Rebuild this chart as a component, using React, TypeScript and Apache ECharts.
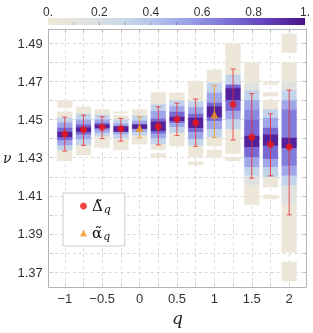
import React, { useEffect, useRef } from 'react';
import * as echarts from 'echarts';

// ---------- data ----------
const qValues = [-1, -0.75, -0.5, -0.25, 0, 0.25, 0.5, 0.75, 1, 1.25, 1.5, 1.75, 2];

// density levels (0..1) used in the columns
const B = 0.02, G = 0.15, L = 0.32, V = 0.52, P = 0.72, D = 0.95;

// [q, upper nu, lower nu, level]
const densityBlocks: [number, number, number, number][] = [
  [-1, 1.4600, 1.4561, B], [-1, 1.4541, 1.4510, B], [-1, 1.4510, 1.4485, L], [-1, 1.4485, 1.4457, V],
  [-1, 1.4457, 1.4436, P], [-1, 1.4436, 1.4405, D], [-1, 1.4405, 1.4390, P], [-1, 1.4390, 1.4363, V],
  [-1, 1.4363, 1.4337, L], [-1, 1.4337, 1.4283, B],

  [-0.75, 1.4567, 1.4530, B], [-0.75, 1.4530, 1.4500, L], [-0.75, 1.4500, 1.4475, V], [-0.75, 1.4475, 1.4460, P],
  [-0.75, 1.4460, 1.4435, D], [-0.75, 1.4435, 1.4420, P], [-0.75, 1.4420, 1.4395, V], [-0.75, 1.4395, 1.4365, L],
  [-0.75, 1.4365, 1.4313, B],

  [-0.5, 1.4553, 1.4525, B], [-0.5, 1.4525, 1.4500, L], [-0.5, 1.4500, 1.4482, V], [-0.5, 1.4482, 1.4474, P],
  [-0.5, 1.4474, 1.4455, D], [-0.5, 1.4455, 1.4447, P], [-0.5, 1.4447, 1.4430, V], [-0.5, 1.4430, 1.4410, L],
  [-0.5, 1.4410, 1.4353, B],

  [-0.25, 1.4541, 1.4532, B], [-0.25, 1.4521, 1.4500, B], [-0.25, 1.4500, 1.4480, L], [-0.25, 1.4480, 1.4465, V],
  [-0.25, 1.4465, 1.4435, D], [-0.25, 1.4435, 1.4420, V], [-0.25, 1.4420, 1.4400, L], [-0.25, 1.4400, 1.4341, B],

  [0, 1.4553, 1.4520, B], [0, 1.4520, 1.4495, L], [0, 1.4495, 1.4475, V], [0, 1.4475, 1.4450, D],
  [0, 1.4450, 1.4435, V], [0, 1.4435, 1.4415, L], [0, 1.4415, 1.4370, B],

  [0.25, 1.4643, 1.4580, B], [0.25, 1.4580, 1.4545, L], [0.25, 1.4545, 1.4505, V], [0.25, 1.4505, 1.4490, P],
  [0.25, 1.4490, 1.4440, D], [0.25, 1.4440, 1.4425, P], [0.25, 1.4425, 1.4400, V], [0.25, 1.4400, 1.4370, L],
  [0.25, 1.4370, 1.4341, B], [0.25, 1.4322, 1.4303, B],

  [0.5, 1.4640, 1.4600, B], [0.5, 1.4600, 1.4570, L], [0.5, 1.4570, 1.4540, V], [0.5, 1.4540, 1.4515, P],
  [0.5, 1.4515, 1.4490, D], [0.5, 1.4490, 1.4480, P], [0.5, 1.4480, 1.4460, V], [0.5, 1.4460, 1.4430, L],
  [0.5, 1.4430, 1.4361, B],

  [0.75, 1.4700, 1.4596, B], [0.75, 1.4596, 1.4565, L], [0.75, 1.4565, 1.4530, V], [0.75, 1.4530, 1.4510, P],
  [0.75, 1.4510, 1.4455, D], [0.75, 1.4455, 1.4433, P], [0.75, 1.4433, 1.4398, V], [0.75, 1.4398, 1.4363, L],
  [0.75, 1.4363, 1.4301, B], [0.75, 1.4280, 1.4263, B],

  [1, 1.4761, 1.4692, B], [1, 1.4692, 1.4641, L], [1, 1.4641, 1.4589, V], [1, 1.4589, 1.4570, P],
  [1, 1.4570, 1.4510, D], [1, 1.4510, 1.4492, P], [1, 1.4492, 1.4448, V], [1, 1.4448, 1.4405, L],
  [1, 1.4405, 1.4362, B], [1, 1.4341, 1.4301, B],

  [1.25, 1.4900, 1.4735, B], [1.25, 1.4735, 1.4683, L], [1.25, 1.4683, 1.4665, P], [1.25, 1.4665, 1.4600, D],
  [1.25, 1.4600, 1.4544, P], [1.25, 1.4544, 1.4500, V], [1.25, 1.4500, 1.4448, L], [1.25, 1.4448, 1.4322, B],
  [1.25, 1.4304, 1.4283, B],

  [1.5, 1.4801, 1.4690, B], [1.5, 1.4690, 1.4653, G], [1.5, 1.4653, 1.4601, L], [1.5, 1.4601, 1.4553, V],
  [1.5, 1.4553, 1.4500, 0.62], [1.5, 1.4500, 1.4414, P], [1.5, 1.4414, 1.4353, D], [1.5, 1.4353, 1.4301, P],
  [1.5, 1.4301, 1.4249, V], [1.5, 1.4249, 1.4205, L], [1.5, 1.4205, 1.4153, G], [1.5, 1.4153, 1.4053, B],

  [1.75, 1.4700, 1.4683, B], [1.75, 1.4643, 1.4622, B], [1.75, 1.4601, 1.4553, B], [1.75, 1.4553, 1.4509, L],
  [1.75, 1.4509, 1.4456, V], [1.75, 1.4456, 1.4422, P], [1.75, 1.4422, 1.4362, D], [1.75, 1.4362, 1.4292, P],
  [1.75, 1.4292, 1.4249, V], [1.75, 1.4249, 1.4197, L], [1.75, 1.4197, 1.4145, B], [1.75, 1.4105, 1.4084, B],

  [2, 1.4948, 1.4851, B], [2, 1.4801, 1.4700, B], [2, 1.4700, 1.4653, G], [2, 1.4653, 1.4601, L],
  [2, 1.4601, 1.4553, V], [2, 1.4553, 1.4405, 0.66], [2, 1.4405, 1.4348, D], [2, 1.4348, 1.4257, 0.66],
  [2, 1.4257, 1.4205, V], [2, 1.4205, 1.4153, L], [2, 1.4153, 1.4058, G], [2, 1.4058, 1.3803, B],
  [2, 1.3754, 1.3653, B],
];

// Delta-tilde estimates (red)
const deltaQ = [-1, -0.75, -0.5, -0.25, 0.25, 0.5, 0.75, 1.25, 1.5, 1.75, 2];
const deltaMean = [1.4424, 1.4447, 1.4460, 1.4452, 1.4462, 1.4502, 1.4483, 1.4579, 1.4408, 1.4370, 1.4356];
const deltaHigh = [1.4513, 1.4523, 1.4515, 1.4506, 1.4567, 1.4586, 1.4608, 1.4765, 1.4636, 1.4530, 1.4655];
const deltaLow = [1.4335, 1.4365, 1.4400, 1.4387, 1.4367, 1.4416, 1.4360, 1.4393, 1.4193, 1.4205, 1.4000];

// alpha-tilde estimates (orange)
const alphaQ = [0, 1];
const alphaMean = [1.4457, 1.4527];
const alphaHigh = [1.4515, 1.4678];
const alphaLow = [1.4405, 1.4405];

// axes
const xTickValues = [-1, -0.75, -0.5, -0.25, 0, 0.25, 0.5, 0.75, 1, 1.25, 1.5, 1.75, 2];
const xLabelValues = [-1, -0.5, 0, 0.5, 1, 1.5, 2];
const yTickValues = [1.37, 1.38, 1.39, 1.40, 1.41, 1.42, 1.43, 1.44, 1.45, 1.46, 1.47, 1.48, 1.49];
const yLabelValues = [1.37, 1.39, 1.41, 1.43, 1.45, 1.47, 1.49];

// colour bar
const colorbarTicks = [0, 0.2, 0.4, 0.6, 0.8, 1];
const colorbarLabels = ['0.', '0.2', '0.4', '0.6', '0.8', '1.'];
const colorbarMinor = [0.1, 0.2, 0.3, 0.4, 0.5, 0.6, 0.7, 0.8, 0.9];

const palette = ['#EEE8D8', '#E6E4DC', '#D9DFE2', '#C7D8E9', '#B5C5EC', '#A3ADEA', '#8F90E3', '#7B70D8', '#6A4FC6', '#5A30AC', '#4A128A'];

const SERIF = '"DejaVu Serif", "Liberation Serif", serif';
const SANS = '"Liberation Sans", Arial, sans-serif';

function fmtX(v: number) {
  return v < 0 ? '\u2212' + Math.abs(v) : String(v);
}

export default function App() {
  const ref = useRef<HTMLDivElement>(null);
  useEffect(() => {
    if (!ref.current) return;
    const chart = echarts.init(ref.current, null, { renderer: 'svg' });
    const halfW = 0.1;
    const frameColor = '#B4B4B4';

    const cbLeft = 48, cbWidth = 257, cbTop = 18, cbHeight = 7;
    const graphics: any[] = [
      {
        type: 'rect', silent: true,
        shape: { x: cbLeft, y: cbTop, width: cbWidth, height: cbHeight },
        style: {
          fill: new echarts.graphic.LinearGradient(0, 0, 1, 0,
            palette.map((c, i) => ({ offset: i / (palette.length - 1), color: c }))),
        },
      },
      ...colorbarMinor.map((v) => ({
        type: 'line', silent: true,
        shape: { x1: cbLeft + v * cbWidth, y1: cbTop + cbHeight - 2.5, x2: cbLeft + v * cbWidth, y2: cbTop + cbHeight },
        style: { stroke: 'rgba(90,90,90,0.45)', lineWidth: 1 },
      })),
      ...colorbarTicks.map((v, i) => ({
        type: 'text', silent: true,
        x: cbLeft + v * cbWidth, y: 12,
        style: { text: colorbarLabels[i], fontSize: 12, fontFamily: SANS, fill: '#333', align: 'center', verticalAlign: 'middle' },
      })),
    ];

    const errorRender = (color: string) => (params: any, api: any) => {
      const q = api.value(0);
      const top = api.coord([q, api.value(2)]);
      const bot = api.coord([q, api.value(3)]);
      const cw = 2.5;
      return {
        type: 'group',
        children: [
          { type: 'line', shape: { x1: top[0], y1: top[1], x2: bot[0], y2: bot[1] }, style: { stroke: color, lineWidth: 1 } },
          { type: 'line', shape: { x1: top[0] - cw, y1: top[1], x2: top[0] + cw, y2: top[1] }, style: { stroke: color, lineWidth: 1 } },
          { type: 'line', shape: { x1: bot[0] - cw, y1: bot[1], x2: bot[0] + cw, y2: bot[1] }, style: { stroke: color, lineWidth: 1 } },
        ],
      };
    };

    const option: any = {
      animation: false,
      graphic: graphics,
      grid: { left: 47, right: 7, top: 29, bottom: 46 },
      legend: {
        data: [{ name: 'Δ̃q', icon: 'circle' }, { name: 'α̃q', icon: 'triangle' }],
        orient: 'vertical',
        left: 63, top: 193,
        padding: [4, 14, 4, 17],
        itemGap: 9,
        itemWidth: 7, itemHeight: 7,
        backgroundColor: '#ffffff',
        borderColor: '#cccccc', borderWidth: 1, borderRadius: 0,
        formatter: (name: string) => `{m|${name.slice(0, -1)}}{s|q}`,
        textStyle: {
          rich: {
            m: { fontFamily: SERIF, fontSize: 15, color: '#111', lineHeight: 16 },
            s: { fontFamily: SERIF, fontStyle: 'italic', fontSize: 11, color: '#111', padding: [7, 0, 0, 1], lineHeight: 16 },
          },
        },
      },
      xAxis: [
        {
          type: 'value', min: -1.215, max: 2.225,
          name: 'q', nameLocation: 'middle', nameGap: 20,
          nameTextStyle: { fontFamily: SERIF, fontStyle: 'italic', fontSize: 17, color: '#222' },
          axisLine: { show: true, onZero: false, lineStyle: { color: frameColor } },
          axisTick: { show: true, inside: true, length: 4, customValues: xTickValues, lineStyle: { color: frameColor } },
          axisLabel: { customValues: xLabelValues, formatter: fmtX, fontSize: 13, fontFamily: SANS, color: '#333', margin: 5 },
          splitLine: { show: false },
        },
        {
          type: 'value', min: -1.215, max: 2.225, position: 'top',
          axisLine: { show: true, onZero: false, lineStyle: { color: frameColor } },
          axisTick: { show: true, inside: true, length: 3, customValues: xTickValues, lineStyle: { color: frameColor } },
          axisLabel: { show: false },
          splitLine: { show: false },
        },
      ],
      yAxis: [
        {
          type: 'value', min: 1.3622, max: 1.4975,
          name: 'ν', nameLocation: 'middle', nameGap: 37, nameRotate: 0,
          nameTextStyle: { fontFamily: SERIF, fontStyle: 'italic', fontSize: 14, color: '#222', align: 'center' },
          axisLine: { show: true, onZero: false, lineStyle: { color: frameColor } },
          axisTick: { show: true, inside: true, length: 4, customValues: yTickValues, lineStyle: { color: frameColor } },
          axisLabel: { customValues: yLabelValues, formatter: (v: number) => v.toFixed(2), fontSize: 13, fontFamily: SANS, color: '#333', margin: 6 },
          splitLine: { show: false },
        },
        {
          type: 'value', min: 1.3622, max: 1.4975, position: 'right',
          axisLine: { show: true, onZero: false, lineStyle: { color: frameColor } },
          axisTick: { show: true, inside: true, length: 3, customValues: yTickValues, lineStyle: { color: frameColor } },
          axisLabel: { show: false },
          splitLine: { show: false },
        },
      ],
      series: [
        {
          type: 'line', name: 'grid', data: [], z: 1, silent: true,
          markLine: {
            silent: true, symbol: 'none', animation: false, z: 1,
            label: { show: false },
            lineStyle: { color: '#D9D9D9', type: [3, 3], width: 1 },
            data: [
              ...xTickValues.map((v) => ({ xAxis: v })),
              ...yTickValues.map((v) => ({ yAxis: v })),
            ],
          },
        },
        {
          type: 'custom', name: 'density', z: 2, silent: true,
          data: densityBlocks,
          renderItem: (params: any, api: any) => {
            const q = api.value(0);
            const p1 = api.coord([q - halfW, api.value(1)]);
            const p2 = api.coord([q + halfW, api.value(2)]);
            const c = echarts.color.lerp(api.value(3), palette);
            return {
              type: 'rect',
              shape: { x: p1[0], y: p1[1], width: p2[0] - p1[0], height: p2[1] - p1[1] },
              style: { fill: c, stroke: c, lineWidth: 0.3 },
            };
          },
        },
        {
          type: 'custom', name: 'deltaErr', z: 3, silent: true,
          data: deltaQ.map((q, i) => [q, deltaMean[i], deltaHigh[i], deltaLow[i]]),
          renderItem: errorRender('rgba(236,40,48,0.8)'),
        },
        {
          type: 'custom', name: 'alphaErr', z: 3, silent: true,
          data: alphaQ.map((q, i) => [q, alphaMean[i], alphaHigh[i], alphaLow[i]]),
          renderItem: errorRender('rgba(242,150,40,0.85)'),
        },
        {
          type: 'scatter', name: 'Δ̃q', z: 4,
          symbol: 'circle', symbolSize: 7,
          itemStyle: { color: '#F01515' },
          data: deltaQ.map((q, i) => [q, deltaMean[i]]),
        },
        {
          type: 'scatter', name: 'α̃q', z: 4,
          symbol: 'triangle', symbolSize: 8,
          itemStyle: { color: '#F5941C' },
          data: alphaQ.map((q, i) => [q, alphaMean[i]]),
        },
      ],
    };
    chart.setOption(option);
    return () => chart.dispose();
  }, []);
  return <div ref={ref} style={{ position: 'fixed', left: 0, top: 0, width: 313, height: 333 }} />;
}
